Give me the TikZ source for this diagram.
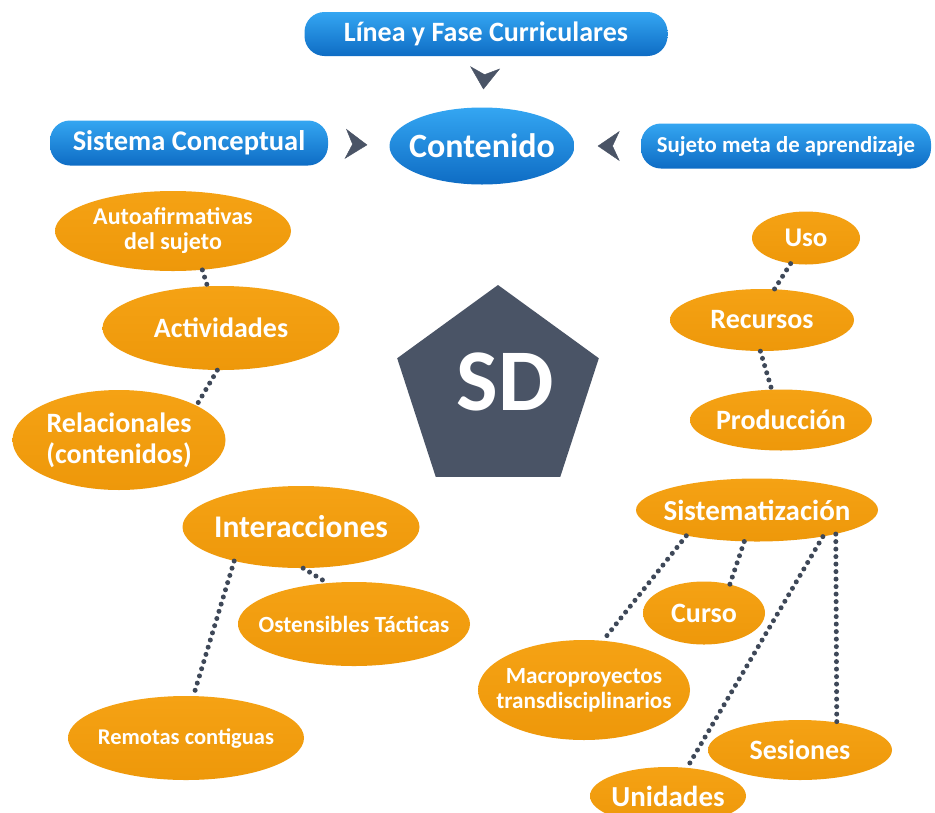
\documentclass[tikz,border=0pt]{standalone}
\usepackage{fontspec}
\setmainfont{Carlito}
\usetikzlibrary{shapes.geometric,arrows.meta}
\definecolor{blueT}{HTML}{34A6F2}
\definecolor{blueB}{HTML}{0E6CC4}
\definecolor{orangeF}{HTML}{F5A214}
\definecolor{orangeD}{HTML}{EE980A}
\definecolor{dotC}{HTML}{3E4858}
\definecolor{slate}{HTML}{4A5466}
\newcommand{\fs}[1]{\fontsize{#1}{#1}\selectfont}
\begin{document}
\begin{tikzpicture}[x=1pt,y=-1pt,
  bluebox/.style={rectangle, rounded corners=20pt, top color=blueT, bottom color=blueB, draw=none, text=white, inner sep=0pt, font=\bfseries\fs{28}},
  blueell/.style={ellipse, top color=blueT, bottom color=blueB, draw=none, text=white, inner sep=0pt, inner xsep=-40pt, font=\bfseries\fs{34}},
  oval/.style={ellipse, top color=orangeF, bottom color=orangeD, draw=none, text=white, inner sep=0pt, inner xsep=-40pt, align=center, font=\bfseries\fs{28}},
  dots/.style={draw=dotC, line width=5pt, line cap=round, dash pattern=on 0pt off 7.5pt},
  tip/.style={draw=slate, line cap=butt, dash pattern=on 0pt off 3000pt, -{Stealth[length=22pt,width=30pt,inset=7pt]}}
]
\useasboundingbox (0,0) rectangle (935,812);
\fill[white] (0,0) rectangle (935,812);

% blue top part
\node[bluebox, minimum width=363pt, minimum height=44pt] (linea) at (486,34) {Línea y Fase Curriculares};
\node[bluebox, minimum width=278pt, minimum height=45pt] (sist) at (189,143) {\fs{28.5}Sistema Conceptual};
\node[bluebox, minimum width=290pt, minimum height=45pt] (suj) at (786,146) {\fs{22.8}Sujeto meta de aprendizaje};
\node[blueell, minimum width=185pt, minimum height=77pt] (cont) at (482,146) {Contenido};

\draw[tip, shorten >=18pt] (linea.south) -- (cont.north);
\draw[tip, shorten >=22pt] (sist.east) -- (cont.west);
\draw[tip, shorten >=23pt] (suj.west) -- (cont.east);

% pentagon
\node[regular polygon, regular polygon sides=5, minimum size=212pt, fill=slate, inner sep=0pt] (sd) at (498,391) {};
\node[text=white, font=\bfseries\fs{88}, inner sep=0pt] (sdt) at (505,382) {SD};

% left ovals
\node[oval, minimum width=236pt, minimum height=80pt, font=\bfseries\fs{24}] (auto) at (173,231) {Autoafirmativas\\[1pt]del sujeto};
\node[oval, minimum width=237pt, minimum height=84pt] (act) at (221,328) {Actividades};
\node[oval, minimum width=213pt, minimum height=100pt, font=\bfseries\fs{28}] (rel) at (119,440) {Relacionales\\[3pt](contenidos)};
\node[oval, minimum width=237pt, minimum height=82pt, font=\bfseries\fs{31.5}] (inter) at (301,527) {Interacciones};
\node[oval, minimum width=232pt, minimum height=84pt, font=\bfseries\fs{23.2}] (ost) at (354,624) {Ostensibles Tácticas};
\node[oval, minimum width=236pt, minimum height=84pt, font=\bfseries\fs{22.5}] (rem) at (186,738) {Remotas contiguas};

% right ovals
\node[oval, minimum width=108pt, minimum height=53pt, font=\bfseries\fs{27}] (uso) at (806,238) {Uso};
\node[oval, minimum width=184pt, minimum height=62pt] (rec) at (762,320) {Recursos};
\node[oval, minimum width=182pt, minimum height=61pt] (prod) at (781,420) {Producción};
\node[oval, minimum width=242pt, minimum height=63pt, font=\bfseries\fs{29}] (sis) at (757,510) {Sistematización};
\node[oval, minimum width=122pt, minimum height=63pt] (curso) at (704,613) {Curso};
\node[oval, minimum width=212pt, minimum height=100pt, font=\bfseries\fs{23.2}] (macro) at (584,690) {Macroproyectos\\[2pt]transdisciplinarios};
\node[oval, minimum width=184pt, minimum height=60pt] (ses) at (800,750) {Sesiones};
\node[oval, minimum width=156pt, minimum height=58pt, font=\bfseries\fs{29}] (uni) at (668,796) {Unidades};

% dotted connectors
\draw[dots] (auto.-53) -- (act.108);
\draw[dots] (act.-95) -- (rel.24);
\draw[dots] (inter.-153) -- (rem.80);
\draw[dots] (inter.-87) -- (ost.123);
\draw[dots] (uso.-121) -- (rec.68);
\draw[dots] (rec.-93) -- (prod.107);
\draw[dots] (sis.-160) -- (macro.69);
\draw[dots] (sis.-112) -- (curso.48);
\draw[dots] (sis.-22) -- (uni.56);
\draw[dots] (sis.-17) -- (ses.37);
\end{tikzpicture}
\end{document}
